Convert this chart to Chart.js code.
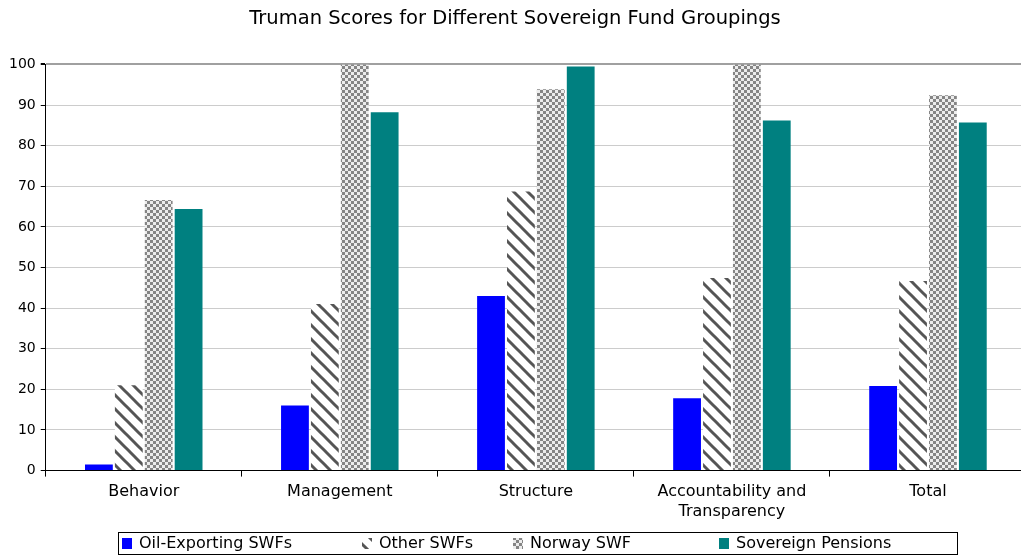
<!DOCTYPE html>
<html>
<head>
<meta charset="utf-8">
<script src="https://cdn.jsdelivr.net/npm/chart.js@4/dist/chart.umd.min.js"></script>
<style>
    html, body { margin: 0; padding: 0; background: #fff; overflow: hidden; }
    #wrap { width: 1026px; height: 556px; }
</style>
</head>
<body>
<div id="wrap"><canvas id="chart"></canvas></div>
<script>
'use strict';

// chart values
const categories = ['Behavior', 'Management', 'Structure', ['Accountability and', 'Transparency'], 'Total'];
const seriesNames = ['Oil-Exporting SWFs', 'Other SWFs', 'Norway SWF', 'Sovereign Pensions'];
const oilExporting = [1.5, 16, 43, 17.8, 20.8];
const otherSwfs = [21, 41, 68.7, 47.4, 46.7];
const norwaySwf = [66.6, 100, 93.9, 100, 92.4];
const sovereignPensions = [64.4, 88.2, 99.5, 86.2, 85.7];
const yTicks = [0, 10, 20, 30, 40, 50, 60, 70, 80, 90, 100];

const FONT = "'DejaVu Sans', sans-serif";

// diagonal "\" stripes for Other SWFs
function stripePattern() {
    let c = document.createElement('canvas');
    let s = 14;
    c.width = s; c.height = s;
    let g = c.getContext('2d');
    g.fillStyle = '#ffffff';
    g.fillRect(0, 0, s, s);
    g.strokeStyle = '#555555';
    g.lineWidth = 3;
    for (let k = -1; k <= 1; k++) {
        g.beginPath();
        g.moveTo(k * s - 2, -2);
        g.lineTo(k * s + s + 2, s + 2);
        g.stroke();
    }
    return g.createPattern(c, 'repeat');
}

// small checkerboard for Norway SWF
function checkerPattern() {
    let c = document.createElement('canvas');
    c.width = 6; c.height = 6;
    let g = c.getContext('2d');
    g.fillStyle = '#ececec';
    g.fillRect(0, 0, 6, 6);
    g.fillStyle = '#858585';
    g.fillRect(0, 0, 3, 3);
    g.fillRect(3, 3, 3, 3);
    return g.createPattern(c, 'repeat');
}

const fills = ['#0000ff', stripePattern(), checkerPattern(), '#008080'];
const values = [oilExporting, otherSwfs, norwaySwf, sovereignPensions];

// legend drawn by hand so it can sit in a bordered box like the original
const legendBox = {
    id: 'legendBox',
    afterDraw(chart) {
        let ctx = chart.ctx;
        let itemX = [122, 362, 513, 719];
        let top = 532, h = 22;
        ctx.save();
        ctx.strokeStyle = '#000';
        ctx.lineWidth = 1;
        ctx.strokeRect(118.5, top + 0.5, 839, h);
        ctx.font = '16px ' + FONT;
        ctx.textBaseline = 'middle';
        for (let i = 0; i < seriesNames.length; i++) {
            ctx.fillStyle = fills[i];
            ctx.fillRect(itemX[i], top + h / 2 - 5, 10, 11);
            ctx.fillStyle = '#000';
            ctx.fillText(seriesNames[i], itemX[i] + 17, top + h / 2 + 1);
        }
        ctx.restore();
    }
};

let datasets = [];
for (let i = 0; i < seriesNames.length; i++) {
    datasets.push({
        label: seriesNames[i],
        data: values[i],
        backgroundColor: fills[i],
        borderWidth: 0,
        categoryPercentage: 0.61,
        barPercentage: 0.93
    });
}

let ctx = document.getElementById('chart').getContext('2d');
new Chart(ctx, {
    type: 'bar',
    data: { labels: categories, datasets: datasets },
    plugins: [legendBox],
    options: {
        responsive: true,
        maintainAspectRatio: false,
        animation: false,
        layout: { padding: { left: 4, right: 0, top: 0, bottom: 29 } },
        plugins: {
            legend: { display: false },
            tooltip: { enabled: false },
            title: {
                display: true,
                text: 'Truman Scores for Different Sovereign Fund Groupings',
                color: '#000',
                font: { family: FONT, size: 19.5, weight: 'normal' },
                padding: { top: 7, bottom: 34 }
            }
        },
        scales: {
            x: {
                grid: {
                    offset: true,
                    drawOnChartArea: false,
                    drawTicks: true,
                    tickLength: 6,
                    tickColor: '#000'
                },
                border: { color: '#000', width: 1 },
                ticks: {
                    color: '#000',
                    font: { family: FONT, size: 16 },
                    padding: 6,
                    maxRotation: 0
                }
            },
            y: {
                min: 0,
                max: 100,
                afterBuildTicks: function(axis) {
                    axis.ticks = yTicks.map(v => ({ value: v }));
                },
                grid: {
                    color: c => (c.tick && c.tick.value === 100) ? '#a0a0a0' : '#cccccc',
                    lineWidth: c => (c.tick && c.tick.value === 100) ? 2 : 1,
                    tickLength: 5,
                    tickColor: '#000'
                },
                border: { color: '#000', width: 1 },
                ticks: {
                    color: '#000',
                    font: { family: FONT, size: 14 },
                    padding: 5
                }
            }
        }
    }
});
</script>
</body>
</html>
